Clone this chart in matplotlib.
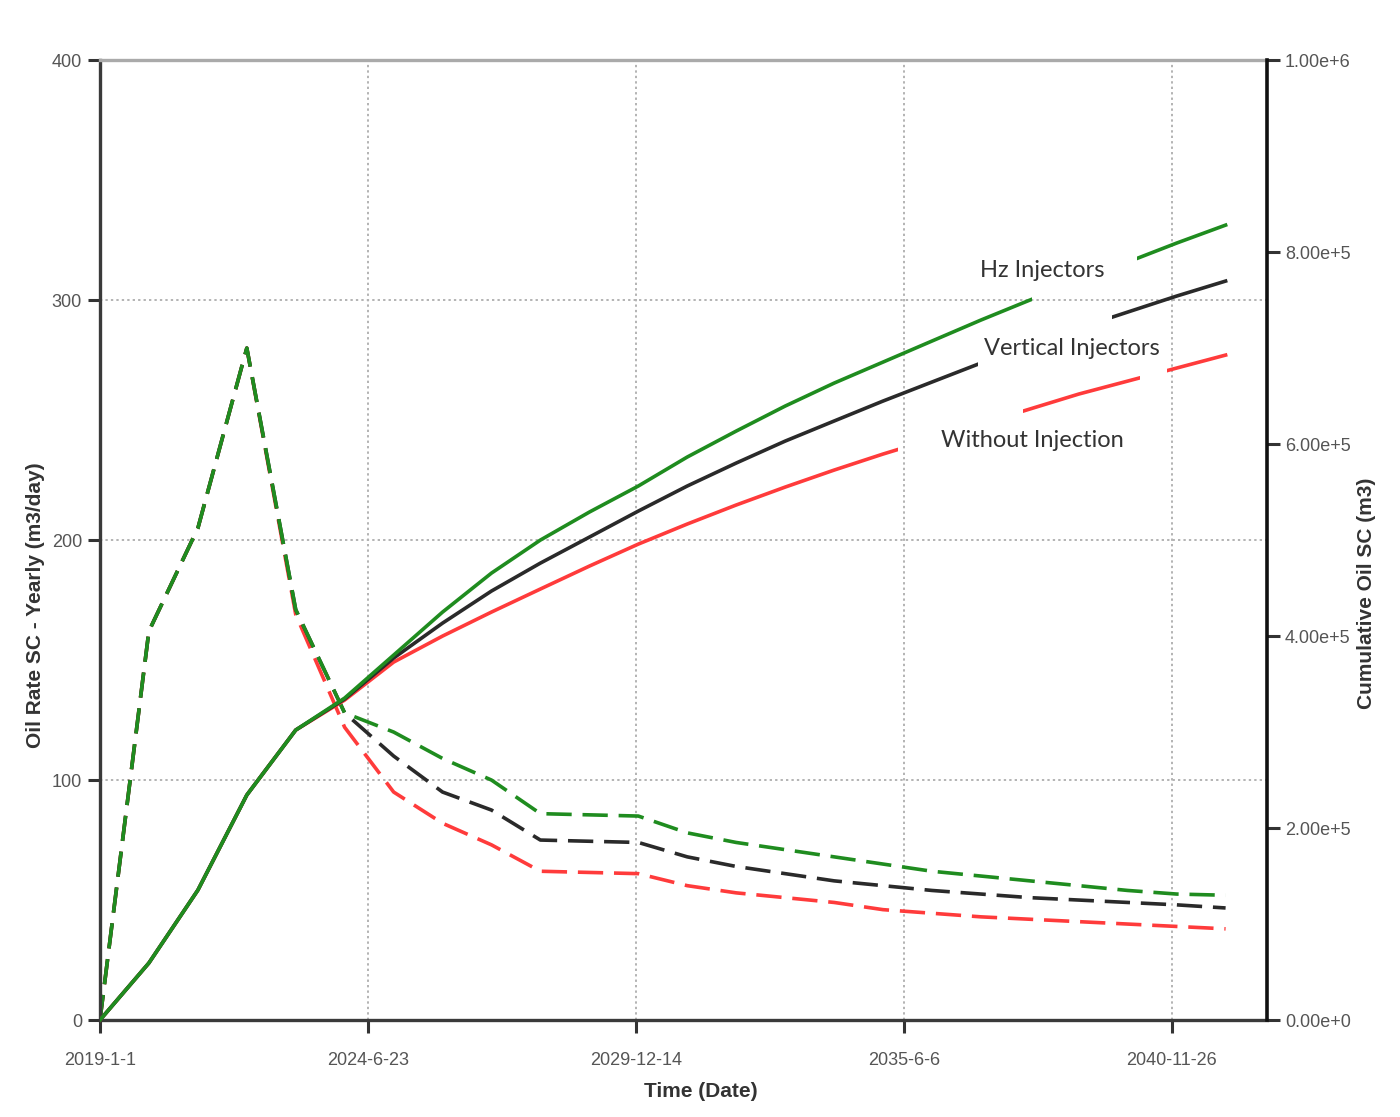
import datetime as dt
import numpy as np
import matplotlib
matplotlib.use("Agg")
import matplotlib.pyplot as plt
import matplotlib.dates as mdates
from matplotlib.patches import Rectangle

# yearly samples, 1 Jan of each year
years = list(range(2019, 2043))

# oil rate SC - yearly (m3/day)
rate_hz = [0, 162, 205, 280, 171, 128, 120, 109, 100, 86, 85.5, 85, 78, 74,
           71, 68, 65, 62, 60, 58, 56, 54, 52.5, 52]
rate_vert = [0, 162, 205, 280, 171, 128, 110, 95, 87.5, 75, 74.5, 74, 68, 64,
             61, 58, 56, 54, 52.5, 51, 50, 49, 48, 46.7]
rate_none = [0, 162, 205, 280, 169, 122, 95, 82, 73, 62, 61.5, 61, 56, 53,
             51, 49, 46, 44.5, 43, 42, 41, 40, 39, 38]

# cumulative oil SC (m3)
cum_hz = [0, 59400, 135400, 234400, 302100, 335400, 380200, 425000, 465600,
          500000, 529200, 556300, 586500, 613500, 639600, 663500, 685400,
          707300, 729200, 750000, 769800, 789600, 809400, 828100]
cum_vert = [0, 59400, 135400, 234400, 302100, 334400, 377100, 413500, 446900,
            476000, 503100, 530200, 556300, 580200, 603100, 624000, 644800,
            664600, 684400, 703100, 720800, 737500, 754200, 769800]
cum_none = [0, 59400, 135400, 234400, 302100, 333300, 372900, 400000, 425000,
            449000, 472900, 495800, 516700, 536500, 555200, 572900, 589600,
            605200, 620800, 636500, 652100, 665600, 679200, 692700]

start = dt.datetime(2019, 1, 1)
dates = [dt.datetime(y, 1, 1) for y in years]
xnum = mdates.date2num(dates)

GREEN = "#1f8c1f"
BLACK = "#2a2a2a"
RED = "#ff3b3b"
TICK_GRAY = "#555555"

fig = plt.figure(figsize=(14, 11.17), dpi=100)
ax = fig.add_axes([0.0714, 0.0868, 0.8336, 0.8594])
ax2 = ax.twinx()

dash = (0, (7, 3))
for vals, col in [(rate_none, RED), (rate_vert, BLACK), (rate_hz, GREEN)]:
    ax.plot(xnum, vals, color=col, lw=2.6, linestyle=dash)

# visible stretches of the cumulative curves (gaps left for the labels), days from start
visible = {
    "none": [(0, 5955), (6888, 7761), (7963, 9000)],
    "vert": [(0, 6552), (7552, 9000)],
    "hz": [(0, 6955), (7739, 9000)],
}
x0 = mdates.date2num(start)
for key, vals, col in [("none", cum_none, RED), ("vert", cum_vert, BLACK),
                       ("hz", cum_hz, GREEN)]:
    for a, b in visible[key]:
        line, = ax2.plot(xnum, vals, color=col, lw=2.6)
        rect = Rectangle((x0 + a, -1e7), b - a, 2e7, transform=ax2.transData)
        line.set_clip_path(rect)

# axes limits and ticks
xticks = [start + dt.timedelta(days=2000 * k) for k in range(5)]
ax.set_xlim(x0, x0 + 8710)
ax.set_xticks(mdates.date2num(xticks))
ax.set_xticklabels([f"{d.year}-{d.month}-{d.day}" for d in xticks])
ax.set_ylim(0, 400)
ax.set_yticks([0, 100, 200, 300, 400])
ax2.set_ylim(0, 1e6)
rticks = [0, 2e5, 4e5, 6e5, 8e5, 1e6]
ax2.set_yticks(rticks)


def sci(v):
    if v == 0:
        return "0.00e+0"
    e = int(np.floor(np.log10(v)))
    return f"{v / 10 ** e:.2f}e+{e}"


ax2.set_yticklabels([sci(v) for v in rticks])

ax.grid(True, linestyle=(0, (1.2, 1.6)), color="#b3b3b3", lw=1.4)
ax.set_axisbelow(True)

tick_font = dict(family=["Liberation Sans Narrow", "Liberation Sans"], size=13)
for a_ in (ax, ax2):
    a_.tick_params(direction="out", length=9, width=2.2, colors="#333333",
                   labelcolor=TICK_GRAY, pad=4)
    for lab in a_.get_xticklabels() + a_.get_yticklabels():
        lab.set_fontproperties(tick_font)
ax.tick_params(axis="x", pad=14)

for name, sp in ax.spines.items():
    sp.set_linewidth(2.4)
    sp.set_color("#3a3a3a")
ax.spines["top"].set_color("#aaaaaa")
ax.spines["right"].set_visible(False)
for name, sp in ax2.spines.items():
    sp.set_visible(False)
ax2.spines["right"].set_visible(True)
ax2.spines["right"].set_color("#111111")
ax2.spines["right"].set_linewidth(2.6)

lab_font = dict(family=["Liberation Sans Narrow", "Liberation Sans"],
                size=15, weight="bold", color="#333333")
ax.set_xlabel("Time (Date)", **lab_font)
ax.xaxis.set_label_coords(0.515, -0.065)
ax.set_ylabel("Oil Rate SC - Yearly (m3/day)", **lab_font)
ax.yaxis.set_label_coords(-0.047, 0.432)
ax2.set_ylabel("Cumulative Oil SC (m3)", **lab_font)
ax2.yaxis.set_label_coords(1.077, 0.445)

# curve labels
note_font = dict(family=["Lato", "DejaVu Sans"], size=17, color="#333333",
                 ha="center", va="center")
fig.text(1042 / 1400, 1 - 270 / 1117, "Hz Injectors", **note_font)
fig.text(1072 / 1400, 1 - 349 / 1117, "Vertical Injectors", **note_font)
fig.text(1032 / 1400, 1 - 440 / 1117, "Without Injection", **note_font)

fig.savefig("out.png", dpi=100, facecolor="white")
